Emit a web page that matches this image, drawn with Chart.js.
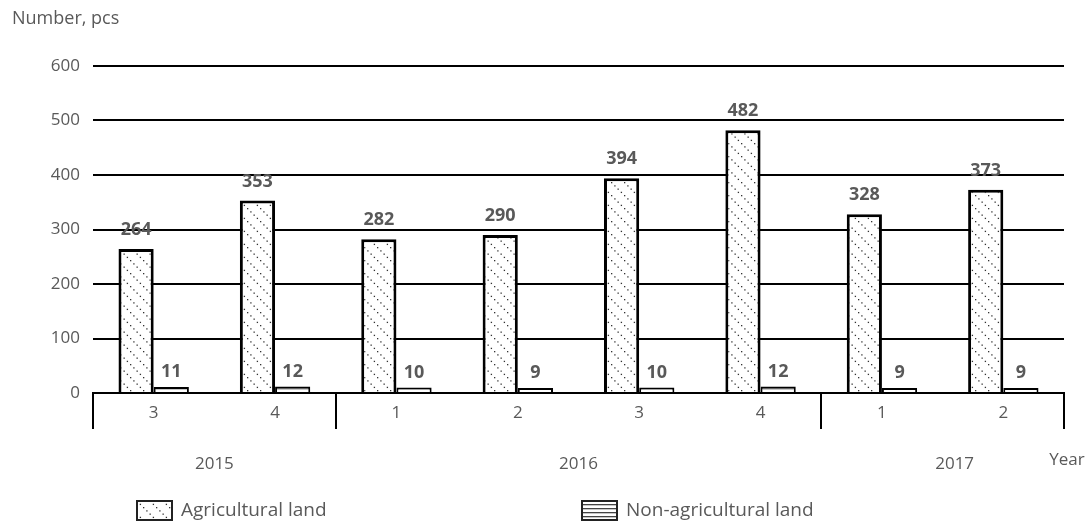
<!DOCTYPE html>
<html><head><meta charset="utf-8">
<script src="https://cdn.jsdelivr.net/npm/chart.js@4.4.1/dist/chart.umd.min.js"></script>
<style>html,body{margin:0;padding:0;background:#fff;} canvas{display:block;}</style>
</head><body>
<canvas id="c" width="1089" height="526"></canvas>
<script>
const quarters = ['3','4','1','2','3','4','1','2'];
const years = ['2015','2016','2017'];
const yearSpans = [2,4,2];
const agricultural = [264,353,282,290,394,482,328,373];
const nonAgricultural = [11,12,10,9,10,12,9,9];
const seriesNames = ['Agricultural land','Non-agricultural land'];
const yAxisTitle = 'Number, pcs';
const xAxisTitle = 'Year';

const FONT = '"Open Sans", sans-serif';
const GREY = '#595959';
const canvas = document.getElementById('c');
const ctx = canvas.getContext('2d');

function diagPattern(){
  const c=document.createElement('canvas'); c.width=13; c.height=13;
  const g=c.getContext('2d'); g.fillStyle='#fff'; g.fillRect(0,0,13,13);
  g.fillStyle='#333';
  for(let i=0;i<13;i+=3.25){ g.fillRect(i,i,1.3,1.3); }
  return ctx.createPattern(c,'repeat');
}
function horizPattern(){
  const c=document.createElement('canvas'); c.width=4; c.height=4;
  const g=c.getContext('2d'); g.fillStyle='#fff'; g.fillRect(0,0,4,4);
  g.fillStyle='#444'; g.fillRect(0,0,4,1.3);
  return ctx.createPattern(c,'repeat');
}
const patAg = diagPattern();
const patNon = horizPattern();

const extras = {
  id:'extras',
  afterDatasetsDraw(chart){
    const c = chart.ctx;
    c.save();
    c.font = 'bold 18px '+FONT; c.fillStyle = GREY; c.textAlign='center'; c.textBaseline='middle';
    chart.data.datasets.forEach((ds,di)=>{
      const meta = chart.getDatasetMeta(di);
      meta.data.forEach((bar,i)=>{
        const off = di===0 ? 19 : 15;
        c.fillText(String(ds.data[i]), bar.x, bar.y - off);
      });
    });
    c.restore();
  },
  afterDraw(chart){
    const c = chart.ctx;
    const area = chart.chartArea;
    const n = quarters.length;
    const w = (area.right - area.left)/n;
    c.save();
    c.strokeStyle='#000'; c.lineWidth=2;
    let k=0; const bounds=[0];
    yearSpans.forEach(s=>{k+=s; bounds.push(k);});
    bounds.forEach(b=>{
      const x = Math.round(area.left + w*b);
      c.beginPath(); c.moveTo(x, area.bottom); c.lineTo(x, area.bottom+36); c.stroke();
    });
    c.font = '17px '+FONT; c.fillStyle=GREY; c.textAlign='center'; c.textBaseline='middle';
    years.forEach((y,i)=>{
      let cx = area.left + w*(bounds[i]+bounds[i+1])/2;
      if(i===years.length-1) cx += 12;
      c.fillText(y, cx, area.bottom+71);
    });
    c.fillText(xAxisTitle, area.right+3, area.bottom+67);
    c.font = '18px '+FONT;
    c.textAlign='left';
    c.fillText(yAxisTitle, 12, 19);
    c.font = '19px '+FONT;
    const items = [
      {x:137, pat:patAg, name:seriesNames[0]},
      {x:582, pat:patNon, name:seriesNames[1]}
    ];
    items.forEach(it=>{
      c.fillStyle = it.pat; c.fillRect(it.x, 501, 35, 19);
      c.strokeStyle='#222'; c.lineWidth=2; c.strokeRect(it.x, 501, 35, 19);
      c.fillStyle=GREY; c.textAlign='left';
      c.fillText(it.name, it.x+44, 511);
    });
    c.restore();
  }
};

new Chart(ctx, {
  type:'bar',
  data:{
    labels: quarters,
    datasets:[
      {label:seriesNames[0], data:agricultural, backgroundColor:patAg, borderColor:'#000', borderWidth:3, borderSkipped:'bottom'},
      {label:seriesNames[1], data:nonAgricultural, backgroundColor:patNon, borderColor:'#000', borderWidth:2, borderSkipped:'bottom'}
    ]
  },
  options:{
    responsive:false, animation:false,
    layout:{padding:{left:0, top:66, right:25, bottom:0}},
    datasets:{bar:{categoryPercentage:0.58, barPercentage:1.0}},
    plugins:{legend:{display:false}, tooltip:{enabled:false}},
    scales:{
      y:{
        min:0, max:600,
        ticks:{stepSize:100, color:GREY, font:{size:17, family:FONT}, padding:13},
        grid:{color:'#000', lineWidth:2, drawTicks:false},
        border:{display:false},
        afterFit(s){ s.width = 93; }
      },
      x:{
        grid:{display:false, drawTicks:false},
        border:{display:true, color:'#000', width:2},
        ticks:{color:GREY, font:{size:17, family:FONT}, padding:10},
        afterFit(s){ s.height = 133; }
      }
    }
  },
  plugins:[extras]
});
</script>
</body></html>
